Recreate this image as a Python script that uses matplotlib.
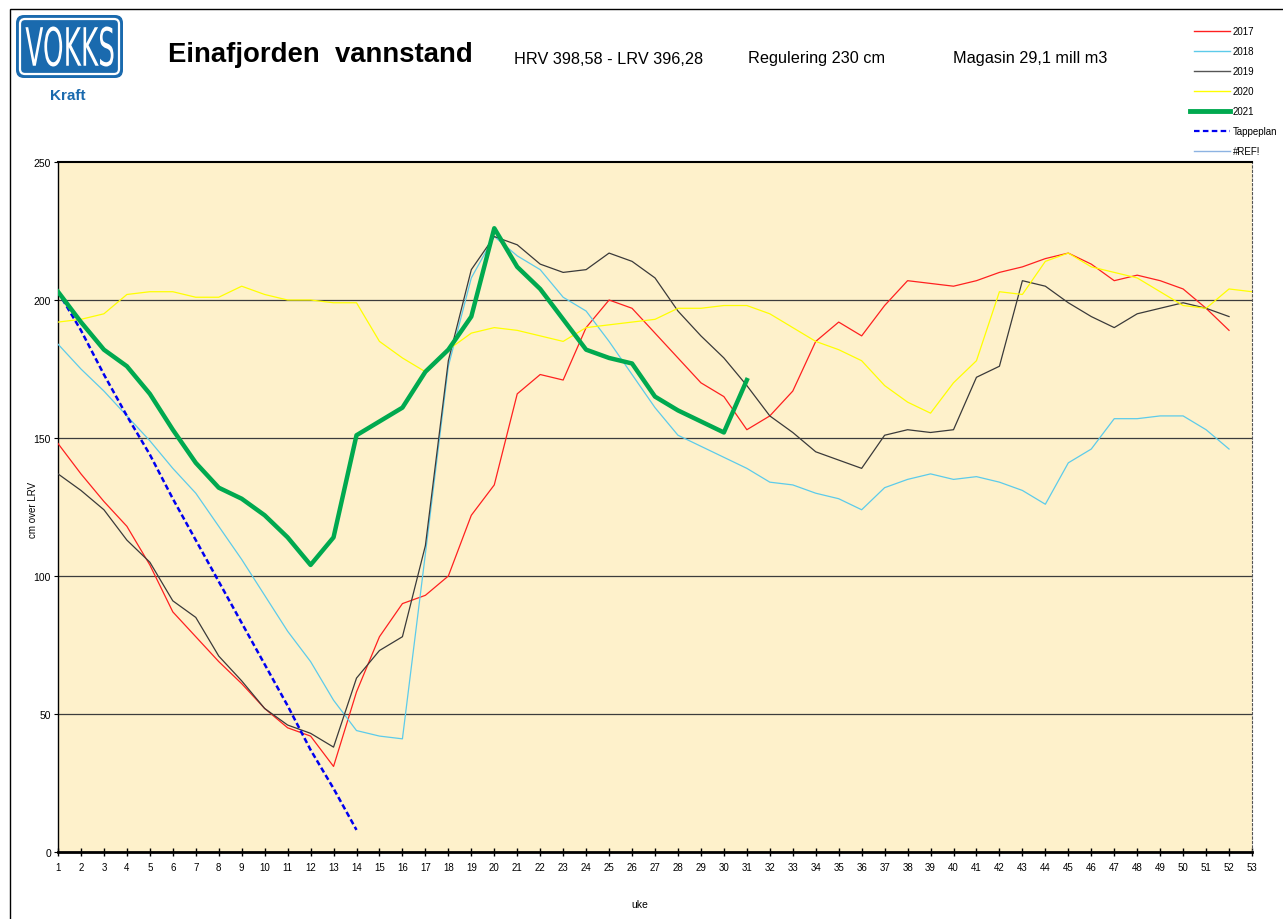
import numpy as np
import matplotlib
matplotlib.use("Agg")
import matplotlib.pyplot as plt
from matplotlib.lines import Line2D
from matplotlib.patches import FancyBboxPatch, PathPatch, Rectangle
from matplotlib.textpath import TextPath
from matplotlib.font_manager import FontProperties
from matplotlib.transforms import Affine2D

plt.rcParams['font.family'] = ['Liberation Sans', 'DejaVu Sans']

# weeks
uke = np.arange(1, 54)

y2017 = [148, 137, 127, 118, 104, 87, 78, 69, 61, 52, 45, 42, 31, 58, 78, 90, 93, 100,
         122, 133, 166, 173, 171, 190, 200, 197, 188, 179, 170, 165, 153, 158, 167, 185,
         192, 187, 198, 207, 206, 205, 207, 210, 212, 215, 217, 213, 207, 209, 207, 204,
         197, 189]
y2018 = [184, 175, 167, 158, 149, 139, 130, 118, 106, 93, 80, 69, 55, 44, 42, 41, 108,
         176, 208, 223, 216, 211, 201, 196, 185, 173, 161, 151, 147, 143, 139, 134, 133,
         130, 128, 124, 132, 135, 137, 135, 136, 134, 131, 126, 141, 146, 157, 157, 158,
         158, 153, 146]
y2019 = [137, 131, 124, 113, 105, 91, 85, 71, 62, 52, 46, 43, 38, 63, 73, 78, 111, 178,
         211, 223, 220, 213, 210, 211, 217, 214, 208, 196, 187, 179, 169, 158, 152, 145,
         142, 139, 151, 153, 152, 153, 172, 176, 207, 205, 199, 194, 190, 195, 197, 199,
         197, 194]
y2020 = [192, 193, 195, 202, 203, 203, 201, 201, 205, 202, 200, 200, 199, 199, 185, 179,
         174, 182, 188, 190, 189, 187, 185, 190, 191, 192, 193, 197, 197, 198, 198, 195,
         190, 185, 182, 178, 169, 163, 159, 170, 178, 203, 202, 214, 217, 212, 210, 208,
         203, 198, 197, 204, 203]
y2021 = [203, 192, 182, 176, 166, 153, 141, 132, 128, 122, 114, 104, 114, 151, 156, 161,
         174, 182, 194, 226, 212, 204, 193, 182, 179, 177, 165, 160, 156, 152, 171]
tappeplan = [203, 189, 173, 158, 144, 128, 113, 98, 83, 68, 53, 37, 23, 8]

series = [
    ("2017", y2017, "#FF2020", 0.9, "-"),
    ("2018", y2018, "#5CCBEA", 0.9, "-"),
    ("2019", y2019, "#3A3A3A", 0.9, "-"),
    ("2020", y2020, "#FFFF00", 0.9, "-"),
    ("2021", y2021, "#00A94F", 3.2, "-"),
    ("Tappeplan", tappeplan, "#0000F0", 1.8, "--"),
]

fig = plt.figure(figsize=(12.83, 9.2), dpi=100)
W, H = 1283, 920

def fx(px):
    return px / W

def fy(py):
    return 1 - py / H

# outer frame (top and left visible)
fig.patches.append(Rectangle((fx(10), -0.1), 1.2, fy(10) + 0.1, transform=fig.transFigure,
                             fill=False, edgecolor="black", linewidth=1.0))

ax = fig.add_axes([fx(58), fy(853), fx(1252) - fx(58), fy(163) - fy(853)])
ax.set_facecolor("#FEF1CB")

for name, vals, col, lw, ls in series:
    x = uke[:len(vals)]
    if ls == "--":
        ax.plot(x, vals, color=col, lw=lw, ls=(0, (2.2, 1.2)), zorder=4)
    else:
        ax.plot(x, vals, color=col, lw=lw, zorder=5 if name == "2021" else 3)

ax.set_xlim(1, 53)
ax.set_ylim(0, 250)
ax.set_xticks(uke)
ax.set_xticklabels([str(u) for u in uke], fontsize=7)
ax.set_yticks([0, 50, 100, 150, 200, 250])
ax.set_yticklabels(["0", "50", "100", "150", "200", "250"], fontsize=7.5)
ax.tick_params(axis="x", direction="inout", length=6, width=1, pad=4)
ax.tick_params(axis="y", length=3, width=0.8, pad=2)
for yv in [50, 100, 150, 200]:
    ax.axhline(yv, color="#3C3C3C", lw=0.9, zorder=2)

ax.spines["top"].set_linewidth(1.5)
ax.spines["left"].set_linewidth(1.0)
ax.spines["bottom"].set_linewidth(2.0)
ax.spines["right"].set_linestyle((0, (2, 2)))
ax.spines["right"].set_color("#555555")

fig.text(fx(33), fy(510), "cm over LRV", rotation=90, fontsize=7, ha="center", va="center")
fig.text(fx(640), fy(905), "uke", fontsize=7.5, ha="center", va="center")

# titles
fig.text(fx(168), fy(55), "Einafjorden  vannstand", fontsize=19.8, fontweight="bold",
         ha="left", va="center")
fig.text(fx(514), fy(59), "HRV 398,58 - LRV 396,28", fontsize=11.7, ha="left", va="center")
fig.text(fx(748), fy(59), "Regulering 230 cm", fontsize=11.7, ha="left", va="center")
fig.text(fx(953), fy(59), "Magasin 29,1 mill m3", fontsize=11.7, ha="left", va="center")

# logo
lax = fig.add_axes([fx(14), fy(81), fx(125) - fx(14), fy(14) - fy(81)])
lax.set_xlim(0, 111)
lax.set_ylim(0, 67)
lax.axis("off")
lax.add_patch(FancyBboxPatch((2, 2), 107, 63, boxstyle="round,pad=0,rounding_size=8",
                             facecolor="#1A6AAE", edgecolor="none"))
lax.add_patch(FancyBboxPatch((6, 6), 99, 55, boxstyle="round,pad=0,rounding_size=5",
                             facecolor="none", edgecolor="white", linewidth=1.6))
tp = TextPath((0, 0), "VOKKS", size=1, prop=FontProperties(family="DejaVu Sans"))
bb = tp.get_extents()
tr = Affine2D().translate(-bb.x0, -bb.y0).scale(88 / bb.width, 40 / bb.height).translate(11.5, 13.5)
lax.add_patch(PathPatch(tr.transform_path(tp), facecolor="white", edgecolor="none"))
fig.text(fx(68), fy(96), "Kraft", fontsize=11, fontweight="bold", color="#1A6AAE",
         ha="center", va="center")

# legend
leg = [("2017", "#FF2020", 1.0, "-"),
       ("2018", "#5CCBEA", 1.0, "-"),
       ("2019", "#555555", 1.0, "-"),
       ("2020", "#FFFF00", 1.0, "-"),
       ("2021", "#00A94F", 3.5, "-"),
       ("Tappeplan", "#0000F0", 1.6, "--"),
       ("#REF!", "#8DB3E2", 1.0, "-")]
for i, (lab, col, lw, ls) in enumerate(leg):
    yy = 32 + 20 * i
    x0 = 1190 if lab == "2021" else 1194
    fig.add_artist(Line2D([fx(x0), fx(1230)], [fy(yy), fy(yy)], color=col, lw=lw,
                          ls=(0, (2.5, 1.5)) if ls == "--" else "-",
                          transform=fig.transFigure))
    fig.text(fx(1233), fy(yy), lab, fontsize=7, ha="left", va="center")

fig.savefig("out.png", dpi=100)
